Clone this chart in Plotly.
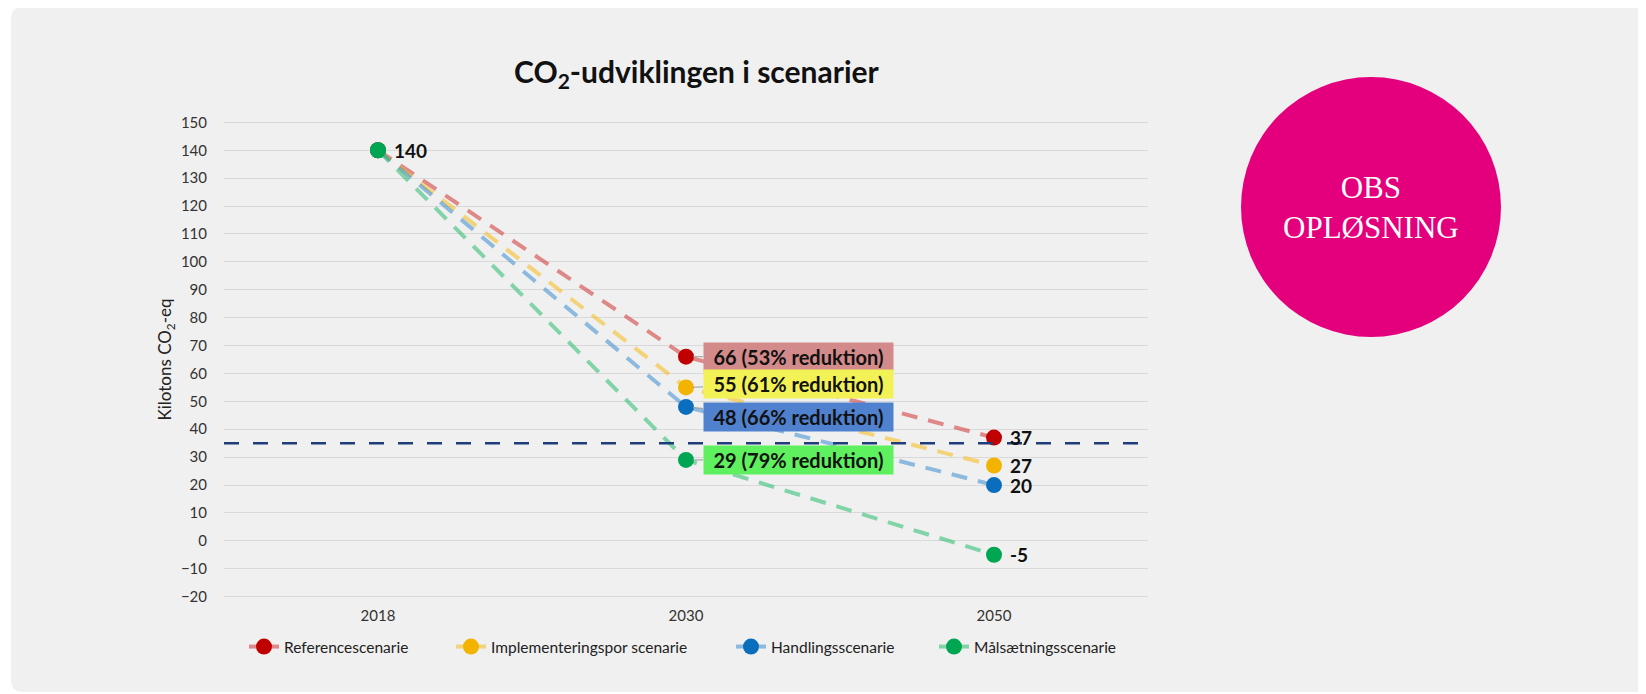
import plotly.graph_objects as go

# ---------------- data ----------------
years = ["2018", "2030", "2050"]
series_names = ["Referencescenarie", "Implementeringspor scenarie", "Handlingsscenarie", "Målsætningsscenarie"]
reference = [140, 66, 37]
implementering = [140, 55, 27]
handling = [140, 48, 20]
maalsaetning = [140, 29, -5]
threshold = 35
y_ticks = list(range(-20, 151, 10))

series_values = [reference, implementering, handling, maalsaetning]

# ---------------- style ----------------
marker_colors = ["#c00000", "#f2b400", "#0a6ebd", "#00a651"]
line_colors = ["rgba(214,80,80,0.65)", "rgba(245,190,40,0.6)", "rgba(60,140,210,0.55)", "rgba(40,190,110,0.55)"]
box_colors = ["#d38a8a", "#f2f256", "#4f81cf", "#5ef05e"]
box_ay = [0, -3, 10, 0]
FONT = "Lato"

OFF = 8  # browser body margin
W, H = 1646 - OFF, 694 - OFF
L = 224 - OFF
R = W - (1148 - OFF)
T = 114 - OFF
B = H - (605 - OFF)
PW, PH = W - L - R, H - T - B


def px(x):
    return (x - OFF - L) / PW


def py(y):
    return (H - B - (y - OFF)) / PH


fig = go.Figure()

legend_names = ["legend", "legend2", "legend3", "legend4"]
for i, (name, vals) in enumerate(zip(series_names, series_values)):
    fig.add_trace(go.Scatter(
        x=years, y=vals, name=name, mode="lines+markers",
        line=dict(color=line_colors[i], width=4, dash="16px,11px"),
        marker=dict(color=marker_colors[i], size=16),
        showlegend=False, hoverinfo="skip",
    ))
# legend entries (solid line sample, as in the reference legend)
for i, name in enumerate(series_names):
    fig.add_trace(go.Scatter(
        x=[None], y=[None], name=name, mode="lines+markers",
        line=dict(color=line_colors[i], width=4),
        marker=dict(color=marker_colors[i], size=16),
        legend=legend_names[i], hoverinfo="skip",
    ))

annotations = []
# start label (all series share 2018 value)
annotations.append(dict(
    x=0, y=series_values[-1][0], xref="x", yref="y", text=f"<b>{series_values[-1][0]}</b>",
    showarrow=False, xanchor="left", yanchor="middle", xshift=14,
    font=dict(family=FONT, size=19, color="#111")))

for i, vals in enumerate(series_values):
    base = vals[0]
    red = round((1 - vals[1] / base) * 100)
    annotations.append(dict(
        x=1, y=vals[1], xref="x", yref="y",
        text=f"<b>{vals[1]} ({red}% reduktion)</b>",
        showarrow=True, arrowhead=0, arrowwidth=1, arrowcolor="#9a9a9a",
        ax=112, ay=box_ay[i], standoff=7,
        bgcolor=box_colors[i], borderpad=2, width=185, height=24, align="center",
        font=dict(family=FONT, size=20, color="#111")))
    annotations.append(dict(
        x=2, y=vals[2], xref="x", yref="y", text=f"<b>{vals[2]}</b>",
        showarrow=False, xanchor="left", yanchor="middle", xshift=14,
        font=dict(family=FONT, size=19, color="#111")))

# title
annotations.append(dict(
    x=px(697), y=py(73), xref="paper", yref="paper", showarrow=False,
    text="<b>CO<sub>2</sub>-udviklingen i scenarier</b>", xanchor="center", yanchor="middle",
    font=dict(family=FONT, size=30, color="#111")))

# OBS circle text
annotations.append(dict(
    x=px(1371), y=py(207), xref="paper", yref="paper", showarrow=False,
    text="OBS<br>OPLØSNING", xanchor="center", yanchor="middle",
    font=dict(family="Liberation Serif", size=31, color="white")))

# rounded panel path
x0, x1, y0, y1, r = 11, 1720, 7, 692, 12


def pth(x, y):
    return f"{px(x):.5f},{py(y):.5f}"


panel_path = (f"M {pth(x0 + r, y0)} L {pth(x1, y0)} L {pth(x1, y1)} L {pth(x0 + r, y1)} "
              f"Q {pth(x0, y1)} {pth(x0, y1 - r)} L {pth(x0, y0 + r)} Q {pth(x0, y0)} {pth(x0 + r, y0)} Z")

shapes = [
    dict(type="path", xref="paper", yref="paper", path=panel_path,
         fillcolor="#f0f0f0", line=dict(width=0), layer="below"),
    dict(type="line", xref="paper", yref="y", x0=0, x1=1, y0=threshold, y1=threshold,
         line=dict(color="#1f3d7a", width=2.5, dash="15px,14px"), layer="above"),
    dict(type="circle", xref="paper", yref="paper", xsizemode="pixel", ysizemode="pixel",
         xanchor=px(1371), yanchor=py(207), x0=-130, x1=130, y0=-130, y1=130,
         fillcolor="#e4007c", line=dict(width=0), layer="above"),
]

legend_x = [244, 451, 731, 934]
leg_common = dict(orientation="h", xanchor="left", yanchor="middle", y=py(647),
                  bgcolor="rgba(0,0,0,0)", font=dict(family=FONT, size=15.5, color="#222"))

fig.update_layout(
    width=W, height=H,
    margin=dict(l=L, r=R, t=T, b=B, autoexpand=False),
    paper_bgcolor="white", plot_bgcolor="rgba(0,0,0,0)",
    font=dict(family=FONT, color="#333"),
    showlegend=True,
    legend=dict(x=px(legend_x[0]), **leg_common),
    legend2=dict(x=px(legend_x[1]), **leg_common),
    legend3=dict(x=px(legend_x[2]), **leg_common),
    legend4=dict(x=px(legend_x[3]), **leg_common),
    annotations=annotations, shapes=shapes,
    xaxis=dict(type="category", categoryorder="array", categoryarray=years, range=[-0.5, 2.5],
               showgrid=False, showline=False, zeroline=False, ticks="",
               tickfont=dict(family=FONT, size=15, color="#333")),
    yaxis=dict(range=[-23, 153], tickvals=y_ticks, showgrid=True, gridcolor="#d9d9d9", gridwidth=1,
               zeroline=False, showline=False, ticks="", ticklabelstandoff=16,
               tickfont=dict(family=FONT, size=15, color="#333"),
               title=dict(text="Kilotons CO<sub>2</sub>-eq", standoff=4,
                          font=dict(family=FONT, size=17, color="#222"))),
    hovermode=False,
)

fig.write_html("out.html")
